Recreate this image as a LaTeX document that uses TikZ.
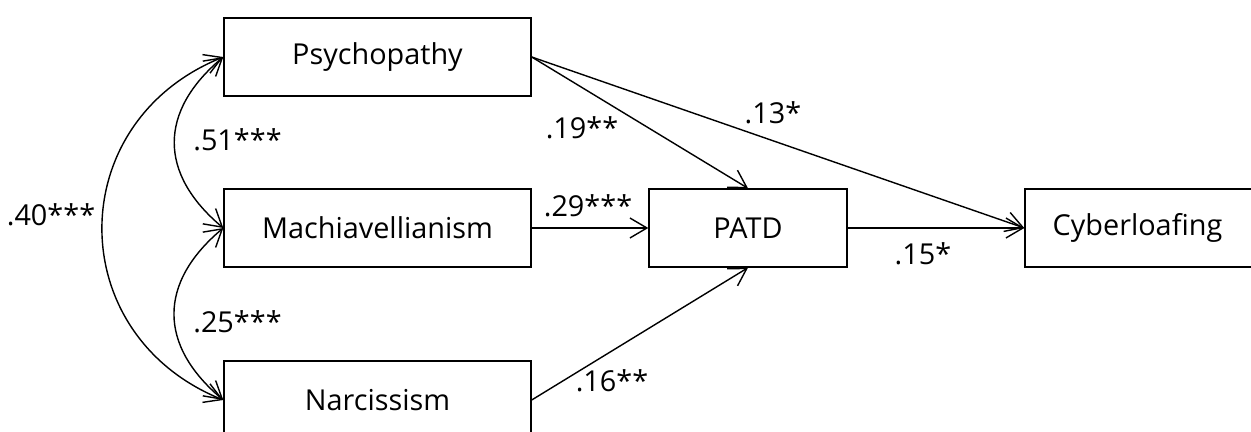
\documentclass[tikz,border=0pt]{standalone}
\usepackage{fontspec}
\setmainfont{Open Sans}
\usepackage{xcolor}
\usepackage{tikz}
\usetikzlibrary{arrows.meta,positioning,calc}

\begin{document}
\begin{tikzpicture}[
    font=\fontsize{16.4}{19}\selectfont,
    var/.style={draw, line width=0.8pt, minimum height=1.56cm, inner sep=0pt},
    path/.style={line width=0.8pt, -{Straight Barb[length=0.34cm, width=0.4cm]}},
    cov/.style={line width=0.8pt, {Straight Barb[length=0.34cm, width=0.4cm]}-{Straight Barb[length=0.34cm, width=0.4cm]}}
]
\useasboundingbox (0,0) rectangle (25.02,-8.64);
\clip (0,0) rectangle (25.02,-8.64);

% Dark triad
\node[var, minimum width=6.14cm] (psy) at (7.55,-1.14) {Psychopathy};
\node[var, minimum width=6.14cm] (mach) at (7.55,-4.56) {Machiavellianism};
\node[var, minimum width=6.14cm] (narc) at (7.55,-8.0) {Narcissism};

% Mediator and outcome
\node[var, minimum width=5.2cm] (cyber) at (23.1,-4.56) {Cyberloafing\kern0.7cm};
\node[var, minimum width=3.96cm] (patd) at (14.96,-4.56) {PATD};

% Correlations
\draw[cov] (psy.west) to[out=220, in=140, looseness=1.27] (mach.west);
\draw[cov] (mach.west) to[out=220, in=140, looseness=1.27] (narc.west);
\draw[cov] (psy.west) to[out=202, in=158, looseness=1.3] (narc.west);
\node at (4.75,-2.8) {.51***};
\node at (4.75,-6.44) {.25***};
\node at (1.02,-4.3) {.40***};

% Paths
\draw[path] (psy.east) -- (patd.north);
\draw[path] (psy.east) -- (cyber.west);
\draw[path] (mach.east) -- (patd.west);
\draw[path] (narc.east) -- (patd.south);
\draw[path] (patd.east) -- (cyber.west);
\node at (11.64,-2.56) {.19**};
\node at (15.46,-2.26) {.13*};
\node at (11.76,-4.12) {.29***};
\node at (18.46,-5.08) {.15*};
\node at (12.24,-7.62) {.16**};
\end{tikzpicture}
\end{document}
